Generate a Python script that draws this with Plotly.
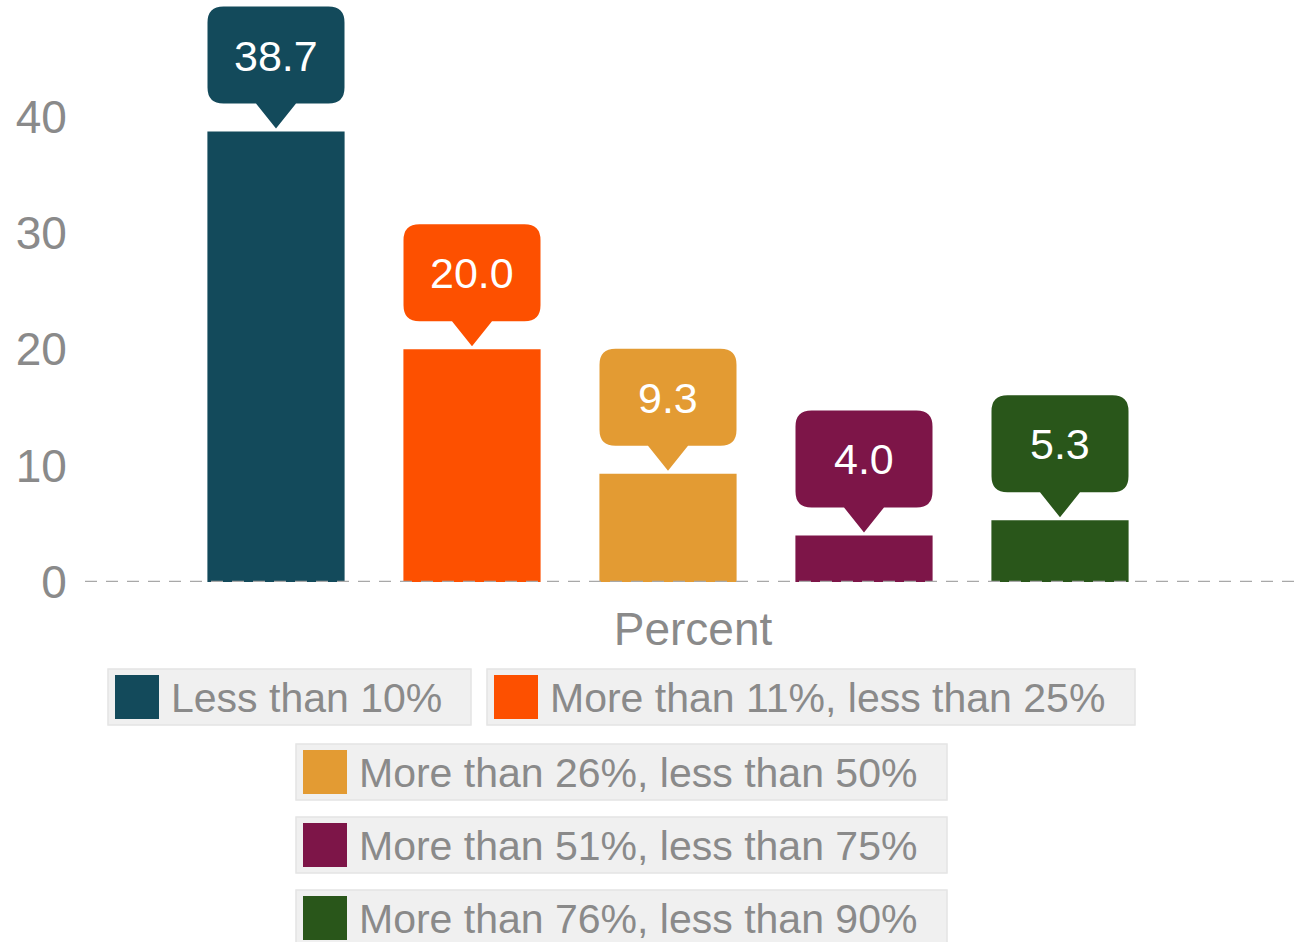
import plotly.graph_objects as go

# Share of respondents per band
series_names = [
    "Less than 10%",
    "More than 11%, less than 25%",
    "More than 26%, less than 50%",
    "More than 51%, less than 75%",
    "More than 76%, less than 90%",
]
values = [38.7, 20.0, 9.3, 4.0, 5.3]
category = ["Percent"]
colors = ["#134a5b", "#fd5000", "#e39b33", "#7d1548", "#29561a"]
y_ticks = [0, 10, 20, 30, 40]

W, H = 1301, 942
FONT = "Liberation Sans, Arial, sans-serif"
GREY = "#8a8a8a"
BARGAP = 0.2
N = len(values)


def px(x):
    return x / W


def py(y):
    return 1 - y / H


fig = go.Figure()
for name, val, col in zip(series_names, values, colors):
    fig.add_trace(go.Bar(
        x=category, y=[val], name=name,
        marker=dict(color=col, line=dict(width=0)),
        showlegend=False, hoverinfo="name+y",
    ))

shapes = []
annotations = []

# callout bubbles above each bar (path in pixels, anchored at bar top)
bubble = ("M 0,3 L 20,28 L 52.5,28 Q 68.5,28 68.5,44 L 68.5,109 "
          "Q 68.5,125 52.5,125 L -52.5,125 Q -68.5,125 -68.5,109 "
          "L -68.5,44 Q -68.5,28 -52.5,28 L -20,28 Z")
slot = (1 - BARGAP) / N
for i, (val, col) in enumerate(zip(values, colors)):
    xc = (i - (N - 1) / 2) * slot
    shapes.append(dict(
        type="path", xref="x", yref="y",
        xsizemode="pixel", ysizemode="pixel",
        xanchor=xc, yanchor=val, path=bubble,
        fillcolor=col, line=dict(width=0), layer="above",
    ))
    annotations.append(dict(
        x=xc, y=val, xref="x", yref="y", text=f"{val:.1f}",
        showarrow=False, yshift=76,
        font=dict(family=FONT, size=43, color="white"),
    ))

# dashed baseline
shapes.append(dict(
    type="line", xref="paper", yref="y", x0=px(85), x1=1, y0=0, y1=0,
    line=dict(color="#a8a8a8", width=2.5, dash="12px,9px"), layer="above",
))

# legend entries: (box left, box right, box top)
legend_boxes = [
    (108, 471, 669),
    (487, 1135, 669),
    (296, 947, 744),
    (296, 947, 817),
    (296, 947, 890),
]
BOX_H = 56
for (x0, x1, y0), name, col in zip(legend_boxes, series_names, colors):
    shapes.append(dict(
        type="rect", xref="paper", yref="paper",
        x0=px(x0), x1=px(x1), y0=py(y0), y1=py(y0 + BOX_H),
        fillcolor="#f0f0f0", line=dict(color="#e4e4e4", width=1.5),
    ))
    shapes.append(dict(
        type="rect", xref="paper", yref="paper",
        x0=px(x0 + 7), x1=px(x0 + 51), y0=py(y0 + 6), y1=py(y0 + 50),
        fillcolor=col, line=dict(width=0),
    ))
    annotations.append(dict(
        x=px(x0 + 61), y=py(y0 + BOX_H / 2 + 1), xref="paper", yref="paper",
        text=name, showarrow=False, xanchor="left", yanchor="middle",
        font=dict(family=FONT, size=41, color=GREY),
    ))

fig.update_layout(
    width=W, height=H,
    margin=dict(l=0, r=0, t=0, b=0),
    paper_bgcolor="white", plot_bgcolor="white",
    barmode="group", bargap=BARGAP, bargroupgap=0.30,
    font=dict(family=FONT, color=GREY),
    shapes=shapes, annotations=annotations,
    xaxis=dict(
        domain=[px(85), 1], range=[-583 / 1225, 633 / 1225],
        showticklabels=False, showgrid=False, zeroline=False, showline=False,
        ticks="", automargin=False,
        title=dict(text="Percent", font=dict(family=FONT, size=46, color="#8a8a8a"),
                   standoff=30),
    ),
    yaxis=dict(
        domain=[py(582), 1], range=[0, 50],
        tickvals=y_ticks, showgrid=False, zeroline=False, showline=False,
        ticks="outside", ticklen=8, tickcolor="rgba(0,0,0,0)",
        tickfont=dict(family=FONT, size=46, color=GREY), automargin=False,
    ),
)

fig.write_html("out.html")
